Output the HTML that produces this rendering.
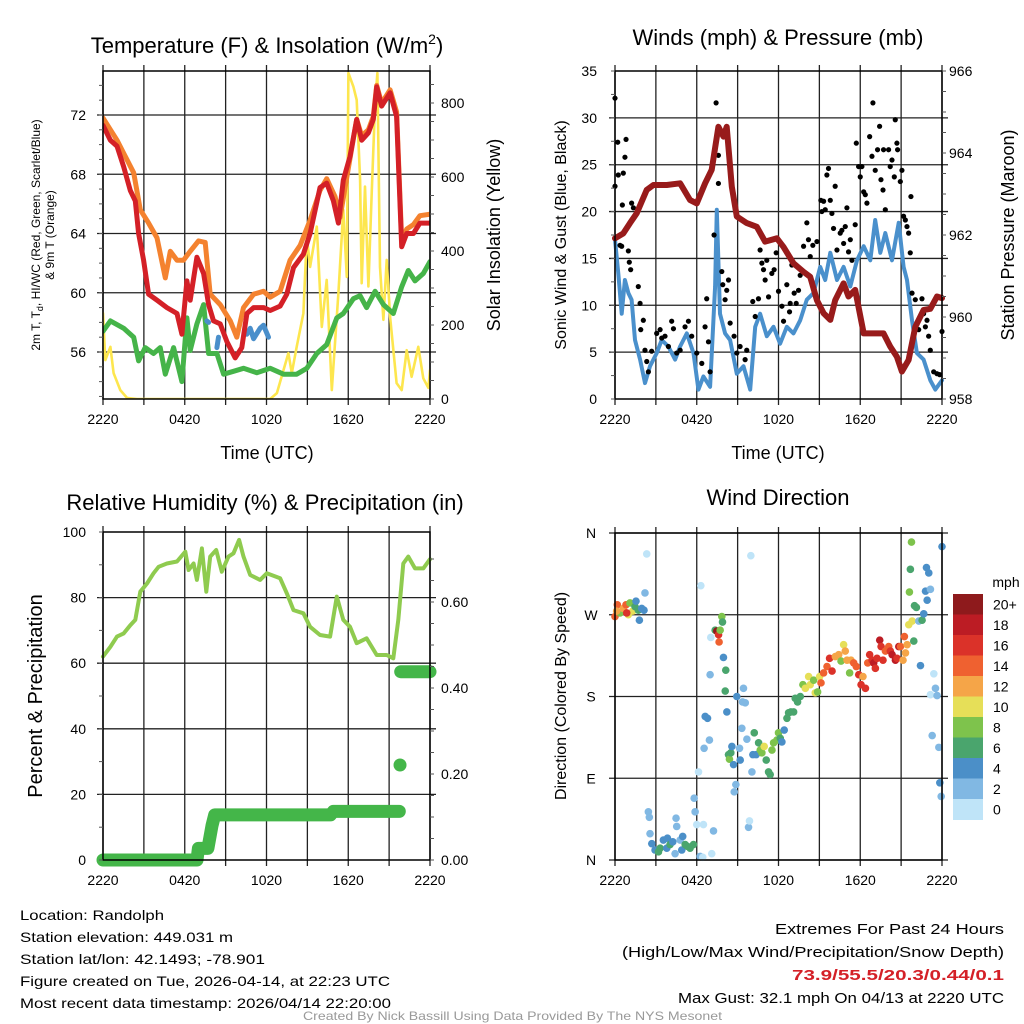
<!DOCTYPE html>
<html><head><meta charset="utf-8"><title>Mesonet Meteogram</title>
<style>
html,body{margin:0;padding:0;background:#fff;}
svg{display:block;font-family:"Liberation Sans",Arial,sans-serif;}
</style></head>
<body>
<svg id="fig" width="1024" height="1024" viewBox="0 0 1024 1024" xmlns="http://www.w3.org/2000/svg">
<rect width="1024" height="1024" fill="#fff"/>
<text x="267" y="53" font-size="22" text-anchor="middle">Temperature (F) &amp; Insolation (W/m<tspan font-size="14" dy="-9">2</tspan><tspan dy="9">)</tspan></text>
<text x="778" y="45" font-size="22" text-anchor="middle">Winds (mph) &amp; Pressure (mb)</text>
<text x="265" y="510" font-size="22" text-anchor="middle">Relative Humidity (%) &amp; Precipitation (in)</text>
<text x="778" y="505" font-size="22" text-anchor="middle">Wind Direction</text>
<text x="267" y="459" font-size="18" text-anchor="middle">Time (UTC)</text>
<text x="778" y="459" font-size="18" text-anchor="middle">Time (UTC)</text>
<g font-size="12" text-anchor="middle">
<text transform="translate(40,235) rotate(-90)">2m T, T<tspan font-size="9" dy="3">d</tspan><tspan dy="-3">, HI/WC (Red, Green, Scarlet/Blue)</tspan></text>
<text transform="translate(54,235) rotate(-90)">&amp; 9m T (Orange)</text>
</g>
<text transform="translate(500,235) rotate(-90)" font-size="18" text-anchor="middle">Solar Insolation (Yellow)</text>
<text transform="translate(566,235) rotate(-90)" font-size="16" text-anchor="middle">Sonic Wind &amp; Gust (Blue, Black)</text>
<text transform="translate(1014,235) rotate(-90)" font-size="18" text-anchor="middle">Station Pressure (Maroon)</text>
<text transform="translate(42,696) rotate(-90)" font-size="20" text-anchor="middle">Percent &amp; Precipitation</text>
<text transform="translate(566,696) rotate(-90)" font-size="16" text-anchor="middle">Direction (Colored By Speed)</text>
<g font-size="14">
<text x="20" y="920" textLength="144" lengthAdjust="spacingAndGlyphs">Location: Randolph</text>
<text x="20" y="942" textLength="213" lengthAdjust="spacingAndGlyphs">Station elevation: 449.031 m</text>
<text x="20" y="964" textLength="245" lengthAdjust="spacingAndGlyphs">Station lat/lon: 42.1493; -78.901</text>
<text x="20" y="986" textLength="370" lengthAdjust="spacingAndGlyphs">Figure created on Tue, 2026-04-14, at 22:23 UTC</text>
<text x="20" y="1008" textLength="371" lengthAdjust="spacingAndGlyphs">Most recent data timestamp: 2026/04/14 22:20:00</text>
</g>
<g font-size="15">
<text x="775" y="934" textLength="229" lengthAdjust="spacingAndGlyphs">Extremes For Past 24 Hours</text>
<text x="622" y="957" textLength="382" lengthAdjust="spacingAndGlyphs">(High/Low/Max Wind/Precipitation/Snow Depth)</text>
<text x="792" y="980" textLength="212" lengthAdjust="spacingAndGlyphs" fill="#d42027" font-weight="bold">73.9/55.5/20.3/0.44/0.1</text>
<text x="678" y="1003" textLength="326" lengthAdjust="spacingAndGlyphs">Max Gust: 32.1 mph On 04/13 at 2220 UTC</text>
</g>
<text x="303" y="1020" font-size="12" fill="#999" textLength="419" lengthAdjust="spacingAndGlyphs">Created By Nick Bassill Using Data Provided By The NYS Mesonet</text>
</svg>
<script>
const tempT = [0,0.54,1.03,1.52,2.0,2.37,2.61,2.98,3.35,3.96,4.69,5.43,5.79,6.16,6.4,6.89,7.38,7.75,8.11,8.6,9.09,9.7,10.19,10.56,11.05,11.78,12.27,13.0,13.49,13.98,14.71,15.2,15.93,16.42,16.91,17.28,17.64,18.13,18.62,18.99,19.48,19.84,20.09,20.45,21.07,21.55,21.92,22.29,22.78,23.26,24];
const tempV = [71.3,70.3,69.9,68.5,66.9,66.2,64.0,62.2,59.9,59.5,59.0,58.6,57.2,60.8,59.5,62.4,61.3,59.2,58.1,57.9,56.7,55.6,56.3,58.6,59.0,59.0,58.8,59.1,59.9,61.7,62.6,64.0,67.1,67.4,66.2,64.7,67.6,69.2,71.7,70.3,70.8,71.7,73.9,72.6,73.5,71.9,63.1,64.0,64.0,64.7,64.7];
const t9T = [0,1.03,2.25,2.74,3.35,3.96,4.57,4.94,5.43,5.91,6.4,7.01,7.5,7.87,8.6,9.34,9.82,10.31,11.05,11.78,12.27,13.0,13.73,14.47,15.2,15.93,16.42,17.03,17.4,17.89,18.62,18.99,19.48,19.84,20.09,20.45,21.07,21.55,21.92,22.29,22.78,23.26,24];
const t9V = [71.8,70.3,68.1,65.6,64.7,63.7,61.0,62.8,62.2,62.2,62.8,63.5,63.4,59.9,59.2,58.1,57.0,59.0,59.9,60.1,59.7,60.1,62.2,63.2,64.9,66.9,67.7,66.5,65.1,67.8,71.7,70.6,71.0,71.9,74.0,72.8,73.7,72.2,63.5,64.3,64.6,65.2,65.3];
const dewT = [0,0.54,1.52,2.25,2.61,3.1,3.71,4.2,4.57,5.18,5.79,6.16,6.4,6.89,7.38,7.75,8.36,8.85,9.58,10.31,11.29,12.27,13.25,14.22,14.96,15.69,16.42,17.16,17.64,18.38,18.87,19.35,19.97,20.58,21.31,21.92,22.41,22.9,23.51,24];
const dewV = [57.4,58.1,57.6,57.0,55.4,56.3,55.9,56.3,54.5,56.3,54.0,58.3,56.1,57.9,59.2,55.9,55.9,54.5,54.7,54.9,54.6,54.9,54.5,54.5,54.9,55.9,56.5,58.3,58.6,59.6,59.8,59.0,60.1,59.2,58.6,60.4,61.5,60.8,61.3,62.1];
const hiT1 = [7.62,7.75], hiV1 = [58.1,58.0];
const hiT2 = [8.36,8.48], hiV2 = [56.3,57.0];
const hiT3 = [10.56,10.8,11.05,11.53,11.78,12.15], hiV3 = [57.2,57.6,56.9,57.6,57.8,57.0];
const solT = [0,0.17,0.54,0.78,1.27,1.76,2.5,6,10,12.27,12.76,13.25,13.61,13.86,14.22,14.71,14.96,15.2,15.69,16.06,16.42,16.79,17.28,17.64,17.89,18.01,18.38,18.62,18.87,18.99,19.23,19.48,19.72,19.97,20.14,20.33,20.58,20.82,21.07,21.55,21.92,22.29,22.65,23.14,23.51,23.88,24];
const solV = [232,105,141,70,24,3,0,0,0,0,16,78,124,70,141,232,439,357,466,195,322,24,286,511,330,881,844,808,592,313,574,304,556,800,881,357,214,376,222,43,24,132,60,141,56,30,78];
const presT = [0,0.61,1.1,1.59,2.33,2.82,3.8,4.78,5.51,6.0,6.61,7.1,7.59,7.96,8.2,8.57,8.94,9.67,10.41,11.02,11.88,12.37,13.1,13.84,14.33,14.82,15.31,15.8,16.16,16.78,17.14,17.63,18.25,18.98,19.71,20.2,20.69,21.06,21.55,22.04,22.65,23.14,23.63,24];
const presV = [961.92,962.04,962.29,962.53,963.1,963.22,963.22,963.26,962.85,962.77,963.26,963.59,964.64,964.4,964.64,963.18,962.45,962.29,962.2,961.84,961.92,961.71,961.31,961.1,960.98,960.41,960.09,959.93,960.41,960.82,960.5,960.66,959.6,959.6,959.6,959.28,959.03,958.67,958.95,959.76,960.17,960.2,960.5,960.46];
const windT = [0,0.24,0.49,0.73,0.98,1.22,1.47,1.84,2.2,2.57,3.06,3.43,3.92,4.41,4.78,5.27,5.76,6.12,6.49,6.98,7.35,7.47,7.71,8.08,8.45,8.94,9.43,9.92,10.29,10.65,11.14,11.63,12.12,12.61,13.1,13.59,14.08,14.57,15.06,15.43,15.8,16.29,16.78,17.27,17.76,18.25,18.74,19.1,19.47,19.84,20.33,20.82,21.18,21.43,21.8,22.16,22.65,23.14,23.51,24];
const windV = [17.0,13.4,9.1,12.7,11.3,10.6,6.3,4.2,1.7,3.5,4.9,6.3,5.6,4.2,5.6,7.0,4.9,1.0,2.4,1.3,12.0,20.2,9.1,7.0,6.3,2.7,3.5,1.0,7.7,9.1,6.7,7.7,5.9,7.7,7.0,8.4,10.6,11.3,14.1,12.7,15.6,12.7,14.1,12.0,14.8,16.3,14.8,19.1,15.6,17.7,14.8,18.8,14.1,12.7,8.4,4.9,4.2,2.0,1.0,2.0];
const gustT = [0,0,0.24,0.2,0.61,0.73,0.81,0.54,1.22,1.35,0.37,0.49,0.98,1.05,1.15,1.71,1.84,1.89,2.08,2.2,2.33,2.45,2.69,3.06,3.31,3.43,3.67,3.92,4.16,4.29,4.53,4.78,5.14,5.39,5.63,6.0,6.37,6.61,6.73,6.86,6.98,7.27,7.42,7.59,7.59,7.84,7.91,8.08,8.2,8.33,8.45,8.74,8.94,9.18,9.55,9.67,10.11,10.29,10.53,10.65,10.78,10.9,11.02,11.14,11.27,11.51,11.68,11.83,12.0,12.25,12.37,12.61,12.81,12.86,12.98,13.15,13.3,13.47,13.59,13.84,14.08,14.2,14.33,14.52,14.82,15.11,15.18,15.31,15.43,15.55,15.67,15.8,15.92,16.04,16.16,16.29,16.53,16.65,16.78,16.9,17.02,17.14,17.27,17.39,17.63,17.71,17.88,18.0,18.12,18.25,18.37,18.49,18.69,18.86,18.93,19.1,19.27,19.42,19.52,19.67,19.71,19.84,20.08,20.2,20.33,20.5,20.57,20.69,20.74,20.94,21.06,21.18,21.31,21.43,21.55,21.67,21.72,21.8,22.04,22.29,22.53,22.65,22.78,22.9,23.02,23.14,23.39,23.63,23.83,24];
const gustV = [32.1,22.7,23.9,27.4,24.1,25.8,27.7,20.7,20.9,20.4,16.4,16.3,15.8,14.6,13.8,12.0,10.2,7.4,8.4,5.2,4.0,2.9,5.1,7.0,7.4,6.5,6.7,5.6,8.3,7.5,4.9,5.2,7.7,8.3,6.7,4.9,3.8,7.7,10.7,6.1,2.9,17.5,31.6,26.0,23.0,13.6,12.2,10.6,11.6,12.7,8.1,6.7,4.9,5.6,4.2,5.2,10.4,8.8,10.7,15.9,14.5,13.8,12.7,14.8,10.9,13.4,13.8,15.6,11.5,9.9,8.3,12.2,9.3,10.2,14.3,11.3,10.2,11.6,13.2,16.3,18.8,17.0,15.2,16.4,16.8,21.2,20.0,21.1,20.2,23.9,24.6,21.2,19.8,18.2,22.7,15.9,17.7,18.0,16.6,18.4,20.4,15.7,17.0,14.8,18.6,27.3,24.8,23.7,24.8,22.1,21.8,20.9,28.0,25.9,31.6,24.4,26.6,29.1,23.4,22.3,26.6,20.2,26.6,24.8,25.5,23.7,29.8,27.3,26.6,23.2,24.4,19.5,19.1,18.4,17.7,15.6,21.6,11.3,10.6,7.4,10.7,9.1,7.7,8.4,6.7,5.2,2.9,2.7,2.6,7.2];
const rhT = [0,0.54,1.03,1.52,2.0,2.37,2.74,3.23,3.71,4.08,4.69,5.43,6.04,6.28,6.65,6.89,7.26,7.58,7.87,8.31,8.72,9.21,9.58,9.99,10.31,10.8,11.53,12.02,13.0,13.49,13.98,14.71,15.2,15.93,16.67,17.16,17.64,18.13,18.62,19.35,20.09,20.82,21.31,21.67,22.04,22.41,22.9,23.51,24];
const rhV = [62.0,65.0,68.1,69.1,71.6,73.2,81.8,84.3,87.4,89.4,90.4,91.0,94.0,88.4,90.4,85.4,95.0,81.8,92.5,94.5,87.9,92.5,93.5,97.6,92.5,86.9,85.4,87.4,85.9,81.3,76.2,75.2,71.1,68.6,68.1,80.3,73.2,71.1,66.1,67.6,62.5,62.5,61.5,73.2,90.4,92.5,88.9,88.9,91.7];
const prT1 = [0,6.9,7.0,7.7,8.0,8.2,16.7,16.9,21.75];
const prV1 = [0,0,0.027,0.027,0.08,0.105,0.105,0.113,0.113];
const prT2 = [21.8], prV2 = [0.221];
const prT3 = [21.85,24], prV3 = [0.438,0.438];
const dirT = [0,0.17,0.37,0.61,0.81,0.98,1.1,1.3,1.47,1.54,1.71,1.79,1.96,2.13,2.2,2.33,0.86,0.12,2.45,2.52,2.57,2.7,2.94,3.19,3.31,3.55,3.8,3.85,4.04,4.24,4.41,4.48,4.53,4.78,4.9,4.97,5.15,5.32,5.51,5.76,5.88,5.81,6.0,6.25,6.3,6.44,6.49,7.1,7.23,6.13,6.54,6.62,6.79,6.93,6.98,7.03,7.35,7.47,7.6,7.64,7.72,7.84,7.89,7.96,8.13,8.09,8.21,8.33,8.4,8.5,8.58,8.7,8.75,8.87,8.94,9.14,9.19,9.31,9.36,9.43,9.56,9.68,9.8,9.87,9.97,10.05,10.12,10.22,10.36,10.54,10.66,10.78,10.95,11.1,11.27,11.39,11.52,11.64,11.88,12.0,12.13,12.25,12.42,12.62,12.74,12.91,13.11,13.23,13.4,13.6,13.79,13.97,14.21,14.33,14.58,14.7,14.87,15.02,15.12,15.31,15.56,15.75,15.93,16.17,16.42,16.59,16.78,16.9,17.03,17.22,17.32,17.52,17.71,17.89,18.06,18.2,18.38,18.55,18.69,18.87,18.99,19.11,19.23,19.43,19.53,19.67,19.85,20.09,20.21,20.34,20.58,20.7,20.83,20.95,21.14,21.24,21.32,21.44,21.56,21.81,21.93,22.12,22.3,22.42,22.54,22.66,22.79,22.91,23.03,23.15,23.4,23.52,23.15,23.28,23.77,23.84,23.94,24.0,21.76,21.68,21.61,21.98,22.86,23.64];
const dirV = [268,281,272,277,281,270,283,274,279,285,275,264,277,275,294,337,272,274,53,47,29,18,11,9,13,22,13,24,17,20,7,46,37,22,11,26,17,15,13,17,53,68,39,4,302,3,39,7,32,97,123,158,156,132,204,245,253,252,248,240,253,268,262,223,209,186,163,116,111,118,125,105,75,83,180,123,110,145,174,189,173,133,36,43,335,97,116,140,116,129,121,118,125,110,97,94,121,129,132,140,134,130,143,156,162,163,163,178,174,180,193,189,202,193,198,184,185,202,195,206,213,222,208,224,226,219,237,230,220,206,220,217,213,204,193,202,189,217,226,220,217,211,222,242,235,220,230,235,230,226,220,222,235,235,220,246,228,237,259,263,241,278,263,214,264,271,296,286,316,298,205,189,182,137,124,85,70,345,350,320,295,280,322,181];
const dirSpd = [14,14,8,12,14,10,8,10,6,4,6,4,4,4,2,0,16,12,2,2,2,4,4,6,6,4,4,4,6,4,2,2,2,2,4,4,6,6,6,6,2,2,0,2,0,0,0,0,2,0,2,4,4,2,2,0,6,20,16,14,8,8,6,4,6,6,4,6,8,6,4,4,2,2,4,2,4,2,2,2,2,2,2,0,0,2,4,6,4,6,8,8,10,6,6,6,8,8,8,8,6,4,4,6,6,6,6,6,6,6,8,10,10,10,8,10,8,10,14,14,14,16,16,12,12,8,10,12,12,8,12,14,14,16,16,12,16,14,16,16,18,16,16,18,16,16,14,14,16,18,18,16,18,14,12,14,12,12,10,10,6,6,2,4,6,4,4,4,4,2,0,2,0,2,2,4,2,4,8,6,8,6,4,2];
const speedLabels = ["20+","18","16","14","12","10","8","6","4","2","0"];
const speedColors = ["#8e1a1c","#bc1c24","#db3229","#ef6130","#f5a548","#e6df58","#7ec34c","#4aa56d","#4b8fc8","#81b8e3","#bfe4f8"];
const xTickHours = [0,6,12,18,24];
const xTickLabels = ["2220","0420","1020","1620","2220"];

const NS = "http://www.w3.org/2000/svg";
const svg = document.getElementById("fig");
function mk(tag, attrs, parent) {
  const e = document.createElementNS(NS, tag);
  for (const k in attrs) e.setAttribute(k, attrs[k]);
  (parent || svg).appendChild(e);
  return e;
}
function lin(d0, d1, r0, r1) { return v => r0 + (v - d0) / (d1 - d0) * (r1 - r0); }
function pathFrom(ts, vs, sx, sy) {
  let d = "";
  for (let i = 0; i < ts.length; i++) d += (i ? "L" : "M") + sx(ts[i]).toFixed(1) + "," + sy(vs[i]).toFixed(1);
  return d;
}
function gridAndFrame(g, x0, x1, y0, y1, hLines) {
  for (let h = 0; h <= 24; h += 3) {
    const x = x0 + h / 24 * (x1 - x0);
    const l = mk("line", {x1: x, x2: x, y1: y0 - 6, y2: y1 + 6, stroke: "#222", "stroke-width": 1.3}, g);
    
    
  }
  hLines.forEach(y => {
    const l = mk("line", {x1: x0 - 6, x2: x1 + 6, y1: y, y2: y, stroke: "#222", "stroke-width": 1.3}, g);
    
    
  });
}
function frame(g, x0, x1, y0, y1) {
  const r = mk("rect", {x: x0, y: y0, width: x1 - x0, height: y1 - y0, fill: "none", stroke: "#000", "stroke-width": 1.5}, g);
  
  
}
function xTicks(g, sx, y) {
  xTickHours.forEach((h, i) => {
    const t = mk("text", {x: sx(h), y: y, "font-size": 14, "text-anchor": "middle"}, g);
    t.textContent = xTickLabels[i];
    
    
  });
}
function yTicks(g, vals, labels, sy, x, anchor, tickX, dir, minor) {
  vals.forEach((v, i) => {
    const t = mk("text", {x: x, y: sy(v) + 5, "font-size": 14, "text-anchor": anchor}, g);
    t.textContent = labels[i];
    
    
  });
  minor.forEach(v => {
    const l = mk("line", {x1: tickX, x2: tickX + dir * 4, y1: sy(v), y2: sy(v), stroke: "#555", "stroke-width": 1}, g);
    
    
  });
}
function line(g, ts, vs, sx, sy, color, w, name) {
  const p = mk("path", {d: pathFrom(ts, vs, sx, sy), fill: "none", stroke: color, "stroke-width": w, "stroke-linejoin": "round", "stroke-linecap": "round"}, g);
  
  
  return p;
}

(function () {
  const X0 = 103, X1 = 430, Y0 = 71, Y1 = 399;
  const g = mk("g", {});
  
  
  const sx = lin(0, 24, X0, X1);
  const sy = lin(56, 72, 352, 115);
  const sr = lin(0, 800, 399, 103);
  gridAndFrame(g, X0, X1, Y0, Y1, [56, 60, 64, 68, 72].map(sy));
  const clip = mk("clipPath", {id: "c1"}, g);
  mk("rect", {x: X0, y: Y0, width: X1 - X0, height: Y1 - Y0}, clip);
  const d = mk("g", {"clip-path": "url(#c1)"}, g);
  line(d, solT, solV, sx, sr, "#fde64e", 2.6, "insolation-line");
  line(d, dewT, dewV, sx, sy, "#45b449", 5, "dewpoint-line");
  line(d, hiT1, hiV1, sx, sy, "#4a8fcb", 5, "heat-index-segment");
  line(d, hiT2, hiV2, sx, sy, "#4a8fcb", 5, "heat-index-segment");
  line(d, hiT3, hiV3, sx, sy, "#4a8fcb", 5, "heat-index-segment");
  line(d, t9T, t9V, sx, sy, "#f4822f", 5, "temp-9m-line");
  line(d, tempT, tempV, sx, sy, "#d42027", 5, "temp-2m-line");
  frame(g, X0, X1, Y0, Y1);
  xTicks(g, sx, 424);
  const lm = []; for (let v = 53; v <= 74; v++) lm.push(v);
  yTicks(g, [56, 60, 64, 68, 72], ["56", "60", "64", "68", "72"], sy, 86, "end", X0, -1, lm);
  const rm = []; for (let v = 0; v <= 850; v += 50) rm.push(v);
  yTicks(g, [0, 200, 400, 600, 800], ["0", "200", "400", "600", "800"], sr, 441, "start", X1, 1, rm);
})();

(function () {
  const X0 = 615, X1 = 942, Y0 = 71, Y1 = 399;
  const g = mk("g", {});
  
  
  const sx = lin(0, 24, X0, X1);
  const sy = lin(0, 35, Y1, Y0);
  const sp = lin(958, 966, 399, 71);
  gridAndFrame(g, X0, X1, Y0, Y1, [5, 10, 15, 20, 25, 30].map(sy));
  const clip = mk("clipPath", {id: "c2"}, g);
  mk("rect", {x: X0 - 3, y: Y0 - 3, width: X1 - X0 + 6, height: Y1 - Y0 + 6}, clip);
  const d = mk("g", {"clip-path": "url(#c2)"}, g);
  line(d, windT, windV, sx, sy, "#4a90cc", 4, "sonic-wind-line");
  gustT.forEach((t, i) => {
    const c = mk("circle", {cx: sx(t), cy: sy(gustV[i]), r: 2.6, fill: "#000"}, d);
    
    
  });
  line(d, presT, presV, sx, sp, "#981b1b", 6, "pressure-line");
  frame(g, X0, X1, Y0, Y1);
  xTicks(g, sx, 424);
  const lm = []; for (let v = 0; v <= 35; v += 2.5) lm.push(v);
  yTicks(g, [0, 5, 10, 15, 20, 25, 30, 35], ["0", "5", "10", "15", "20", "25", "30", "35"], sy, 597, "end", X0, -1, lm);
  const rm = []; for (let v = 958; v <= 966; v += 0.5) rm.push(v);
  yTicks(g, [958, 960, 962, 964, 966], ["958", "960", "962", "964", "966"], sp, 949, "start", X1, 1, rm);
})();

(function () {
  const X0 = 103, X1 = 430, Y0 = 532, Y1 = 860;
  const g = mk("g", {});
  
  
  const sx = lin(0, 24, X0, X1);
  const sy = lin(0, 100, Y1, Y0);
  const sp = lin(0, 0.6, 860, 602);
  gridAndFrame(g, X0, X1, Y0, Y1, [20, 40, 60, 80].map(sy));
  const d = mk("g", {}, g);
  line(d, rhT, rhV, sx, sy, "#8fcb4f", 4, "relative-humidity-line");
  line(d, prT1, prV1, sx, sp, "#44b649", 13, "precip-accum-line");
  prT2.forEach((t, i) => {
    const c = mk("circle", {cx: sx(t), cy: sp(prV2[i]), r: 6.5, fill: "#44b649"}, d);
    
    
  });
  line(d, prT3, prV3, sx, sp, "#44b649", 13, "precip-accum-line");
  frame(g, X0, X1, Y0, Y1);
  xTicks(g, sx, 885);
  const lm = []; for (let v = 0; v <= 100; v += 10) lm.push(v);
  yTicks(g, [0, 20, 40, 60, 80, 100], ["0", "20", "40", "60", "80", "100"], sy, 86, "end", X0, -1, lm);
  const rm = []; for (let v = 0; v <= 0.75; v += 0.05) rm.push(v);
  yTicks(g, [0, 0.2, 0.4, 0.6], ["0.00", "0.20", "0.40", "0.60"], sp, 441, "start", X1, 1, rm);
})();

(function () {
  const X0 = 615, X1 = 942, Y0 = 533, Y1 = 860;
  const g = mk("g", {});
  
  
  const sx = lin(0, 24, X0, X1);
  const sy = lin(0, 360, Y1, Y0);
  gridAndFrame(g, X0, X1, Y0, Y1, [0, 90, 180, 270, 360].map(sy));
  const d = mk("g", {}, g);
  function colorFor(s) {
    const idx = Math.max(0, Math.min(10, 10 - Math.floor(s / 2)));
    return speedColors[idx];
  }
  dirT.forEach((t, i) => {
    const c = mk("circle", {cx: sx(t), cy: sy(dirV[i]), r: 3.8, fill: colorFor(dirSpd[i])}, d);
    
    
  });
  frame(g, X0, X1, Y0, Y1);
  xTicks(g, sx, 885);
  const dl = ["N", "E", "S", "W", "N"];
  [0, 90, 180, 270, 360].forEach((v, i) => {
    const t = mk("text", {x: 591, y: sy(v) + 5, "font-size": 14, "text-anchor": "middle"}, g);
    t.textContent = dl[i];
    
    
  });
  const cb = mk("g", {}, g);
  
  
  const t0 = mk("text", {x: 1006, y: 587, "font-size": 14, "text-anchor": "middle"}, cb);
  t0.textContent = "mph";
  
  
  const bh = 20.5;
  speedLabels.forEach((lab, i) => {
    const r = mk("rect", {x: 953, y: 594 + i * bh, width: 30, height: bh + 0.5, fill: speedColors[i]}, cb);
    
    
    const t = mk("text", {x: 993, y: 594 + i * bh + bh / 2 + 5, "font-size": 14}, cb);
    t.textContent = lab;
    
    
  });
})();
</script>
</body></html>
